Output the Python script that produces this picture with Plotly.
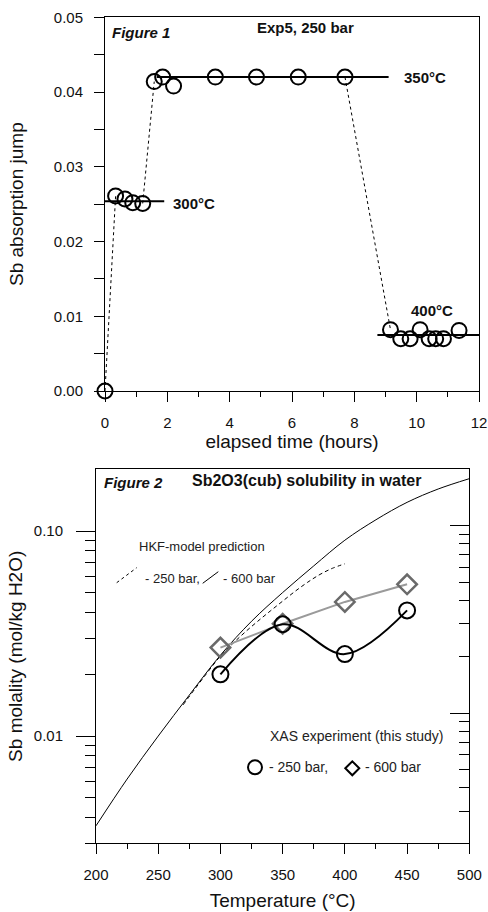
import plotly.graph_objects as go

# ---------------- Figure 1 data: Exp5, 250 bar ----------------
t_start = [0.0]
j_start = [0.0]
t300 = [0.34, 0.64, 0.89, 1.21]
j300 = [0.0261, 0.0257, 0.0252, 0.0251]
t350 = [1.58, 1.85, 2.20, 3.54, 4.86, 6.20, 7.70]
j350 = [0.0414, 0.0420, 0.0408, 0.0420, 0.0420, 0.0420, 0.0420]
t400 = [9.16, 9.49, 9.79, 10.11, 10.40, 10.61, 10.86, 11.36]
j400 = [0.0082, 0.0070, 0.0070, 0.0082, 0.0070, 0.0070, 0.0070, 0.0081]
# plateau levels (time span, level)
plateau300_t = [0.0, 1.9]
plateau300_j = [0.0254, 0.0254]
plateau350_t = [1.66, 9.1]
plateau350_j = [0.0420, 0.0420]
plateau400_t = [8.74, 12.0]
plateau400_j = [0.0075, 0.0075]

# ---------------- Figure 2 data: Sb2O3(cub) solubility ----------------
hkf600_T = [200, 225, 250, 275, 300, 325, 350, 375, 400, 425, 450, 475, 500]
hkf600_m = [0.00365, 0.00617, 0.0100, 0.01585, 0.0248, 0.0363, 0.0501, 0.0676,
            0.0902, 0.1135, 0.138, 0.1603, 0.180]
hkf250_T = [270, 280, 290, 300, 310, 320, 330, 340, 350, 360, 370, 380, 390, 400]
hkf250_m = [0.0142, 0.01714, 0.0206, 0.02455, 0.0283, 0.0322, 0.0363, 0.0407,
            0.0455, 0.0508, 0.0562, 0.0614, 0.0658, 0.0692]
xas_T = [300, 350, 400, 450]
xas250_m = [0.0200, 0.0351, 0.0251, 0.0410]
xas600_m = [0.0270, 0.0353, 0.0451, 0.0550]

FONT = "Liberation Sans, Arial, sans-serif"
W, H = 488, 912

def px(x):
    return x / W

def py(y):
    return 1 - y / H

fig = go.Figure()

# dashed transitions between temperature steps
dash_t = [t_start[0], t300[0], None, t300[-1], t350[0], None, t350[-1], t400[0]]
dash_j = [j_start[0], j300[0], None, j300[-1], j350[0], None, j350[-1], j400[0]]
fig.add_trace(go.Scatter(x=dash_t, y=dash_j, mode="lines", xaxis="x", yaxis="y",
                         line=dict(color="black", width=1, dash="3px,3px"),
                         showlegend=False, hoverinfo="skip", cliponaxis=False))
for pt, pj in [(plateau300_t, plateau300_j), (plateau350_t, plateau350_j),
               (plateau400_t, plateau400_j)]:
    fig.add_trace(go.Scatter(x=pt, y=pj, mode="lines", xaxis="x", yaxis="y",
                             line=dict(color="black", width=2),
                             showlegend=False, cliponaxis=False))
fig.add_trace(go.Scatter(x=t_start + t300 + t350 + t400,
                         y=j_start + j300 + j350 + j400,
                         mode="markers", xaxis="x", yaxis="y",
                         marker=dict(symbol="circle-open", size=15,
                                     color="black", line=dict(width=2)),
                         showlegend=False, cliponaxis=False))

# Figure 2 traces
fig.add_trace(go.Scatter(x=hkf600_T, y=hkf600_m, mode="lines", xaxis="x2", yaxis="y2",
                         line=dict(color="black", width=1, shape="spline"),
                         showlegend=False))
fig.add_trace(go.Scatter(x=hkf250_T, y=hkf250_m, mode="lines", xaxis="x2", yaxis="y2",
                         line=dict(color="black", width=1, dash="4px,3px", shape="spline"),
                         showlegend=False))
fig.add_trace(go.Scatter(x=xas_T, y=xas600_m, mode="lines+markers", xaxis="x2", yaxis="y2",
                         line=dict(color="#9a9a9a", width=2),
                         marker=dict(symbol="diamond-open", size=15, color="#6a6a6a",
                                     line=dict(width=2.5)),
                         showlegend=False, cliponaxis=False))
fig.add_trace(go.Scatter(x=xas_T, y=xas250_m, mode="lines+markers", xaxis="x2", yaxis="y2",
                         line=dict(color="black", width=2, shape="spline"),
                         marker=dict(symbol="circle-open", size=16, color="black",
                                     line=dict(width=2)),
                         showlegend=False, cliponaxis=False))
# invisible trace to register right-hand axis
fig.add_trace(go.Scatter(x=xas_T, y=xas250_m, mode="markers", xaxis="x2", yaxis="y3",
                         marker=dict(opacity=0), showlegend=False, hoverinfo="skip"))

tickfont = dict(family=FONT, size=15, color="#111")
titlefont = dict(family=FONT, size=19, color="#111")

log_minor = [0.003, 0.004, 0.005, 0.006, 0.007, 0.008, 0.009,
             0.02, 0.03, 0.04, 0.05, 0.06, 0.07, 0.08, 0.09]
log_minor_r = [0.002] + log_minor

fig.update_layout(
    width=W, height=H, margin=dict(l=0, r=0, t=0, b=0),
    paper_bgcolor="white", plot_bgcolor="white",
    font=dict(family=FONT, color="#111"),
    xaxis=dict(domain=[px(105), px(479)], anchor="y", range=[0, 12], automargin=False,
               tickmode="array", tickvals=[0, 2, 4, 6, 8, 10, 12],
               ticks="outside", ticklen=10, tickcolor="black", tickwidth=1,
               minor=dict(ticks="outside", ticklen=5, tickmode="array",
                          tickvals=[1, 3, 5, 7, 9, 11], tickcolor="black"),
               showline=True, linecolor="black", linewidth=1, mirror=True,
               showgrid=False, zeroline=False, tickfont=tickfont, ticklabelstandoff=8,
               title=dict(text="elapsed time (hours)", font=titlefont, standoff=2)),
    yaxis=dict(domain=[py(391), py(17.3)], anchor="x", range=[0, 0.05], automargin=False,
               tickmode="array", tickvals=[0, 0.01, 0.02, 0.03, 0.04, 0.05],
               tickformat=".2f",
               ticks="outside", ticklen=10, tickcolor="black", tickwidth=1,
               minor=dict(ticks="outside", ticklen=10, tickmode="array",
                          tickvals=[0.005, 0.015, 0.025, 0.035, 0.045], tickcolor="black"),
               showline=True, linecolor="black", linewidth=1, mirror=True,
               showgrid=False, zeroline=False, tickfont=tickfont, ticklabelstandoff=8,
               title=dict(text="Sb absorption jump", font=titlefont, standoff=25)),
    xaxis2=dict(domain=[px(96), px(469.3)], anchor="y2", range=[200, 500], automargin=False,
                tickmode="array", tickvals=[200, 250, 300, 350, 400, 450, 500],
                ticks="outside", ticklen=10, tickcolor="black", tickwidth=1,
                minor=dict(ticks="outside", ticklen=5, tickmode="array",
                           tickvals=[225, 275, 325, 375, 425, 475], tickcolor="black"),
                showline=True, linecolor="black", linewidth=1, mirror=True,
                showgrid=False, zeroline=False, tickfont=tickfont, ticklabelstandoff=8,
                title=dict(text="Temperature (°C)", font=titlefont, standoff=11)),
    yaxis2=dict(domain=[py(843.3), py(469.3)], anchor="x2", type="log", automargin=False,
                range=[-2.523, -0.699],
                tickmode="array", tickvals=[0.01, 0.1], ticktext=["0.01", "0.10"],
                ticks="outside", ticklen=19, tickcolor="black", tickwidth=1,
                minor=dict(ticks="outside", ticklen=10, tickmode="array",
                           tickvals=log_minor, tickcolor="black"),
                showline=True, linecolor="black", linewidth=1, mirror=False,
                showgrid=False, zeroline=False, tickfont=tickfont, ticklabelstandoff=10,
                title=dict(text="Sb molality (mol/kg H2O)", font=titlefont, standoff=6)),
    yaxis3=dict(overlaying="y2", anchor="x2", side="right", type="log", automargin=False,
                range=[-2.693, -0.699],
                tickmode="array", tickvals=[0.01, 0.1], showticklabels=False,
                ticks="inside", ticklen=19, tickcolor="black", tickwidth=1,
                minor=dict(ticks="inside", ticklen=10, tickmode="array",
                           tickvals=log_minor_r, tickcolor="black"),
                showline=True, linecolor="black", linewidth=1,
                showgrid=False, zeroline=False),
)

ann_bold = dict(family=FONT, size=15, color="#111")
ann_reg = dict(family=FONT, size=13, color="#222")

def add_text(text, x, y, xanchor="left", font=ann_bold):
    fig.add_annotation(text=text, x=px(x), y=py(y), xref="paper", yref="paper",
                       xanchor=xanchor, yanchor="middle", showarrow=False, font=font)

add_text("<b><i>Figure 1</i></b>", 110, 32)
add_text("<b>Exp5, 250 bar</b>", 305, 28, xanchor="center")
add_text("<b>350°C</b>", 402, 78)
add_text("<b>300°C</b>", 171, 203)
add_text("<b>400°C</b>", 409, 310)

add_text("<b><i>Figure 2</i></b>", 101.7, 482.7, font=dict(family=FONT, size=15, color="#111"))
add_text("<b>Sb2O3(cub) solubility in water</b>", 306.5, 480.7, xanchor="center",
         font=dict(family=FONT, size=16, color="#111"))
add_text("HKF-model prediction", 137, 546.7, font=ann_reg)
add_text("- 250 bar,", 143, 578, font=ann_reg)
add_text("- 600 bar", 220.7, 578, font=ann_reg)
add_text("XAS experiment (this study)", 267.7, 735.7, font=dict(family=FONT, size=14, color="#222"))
add_text("- 250 bar,", 266.7, 767.3, font=dict(family=FONT, size=14, color="#222"))
add_text("- 600 bar", 363, 767.3, font=dict(family=FONT, size=14, color="#222"))

# legend glyphs
fig.add_shape(type="line", xref="paper", yref="paper",
              x0=px(116.7), y0=py(582.7), x1=px(136.7), y1=py(567.7),
              line=dict(color="black", width=1, dash="3px,3px"))
fig.add_shape(type="line", xref="paper", yref="paper",
              x0=px(202.7), y0=py(583.3), x1=px(218.3), y1=py(571.7),
              line=dict(color="black", width=1))
fig.add_shape(type="circle", xref="paper", yref="paper", xsizemode="pixel", ysizemode="pixel",
              xanchor=px(255), yanchor=py(767.3), x0=-7, x1=7, y0=-7, y1=7,
              line=dict(color="black", width=2))
fig.add_shape(type="path", xref="paper", yref="paper", xsizemode="pixel", ysizemode="pixel",
              xanchor=px(352.3), yanchor=py(768.3), path="M -7 0 L 0 7 L 7 0 L 0 -7 Z",
              line=dict(color="black", width=2))

fig.write_html("out.html", config={"displayModeBar": False},
               post_script="document.body.style.margin='0';document.body.style.overflow='hidden';")
